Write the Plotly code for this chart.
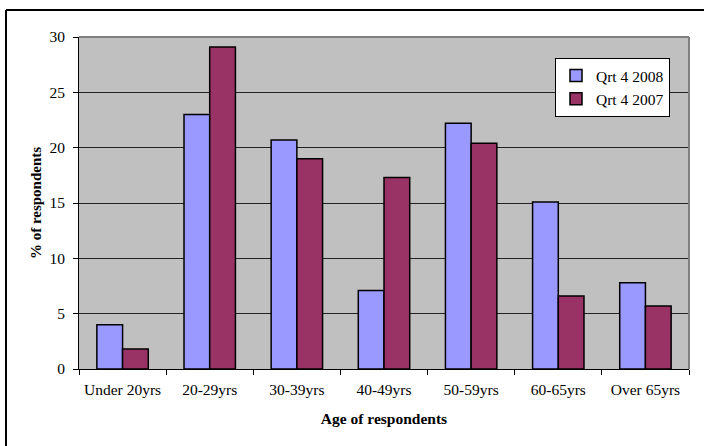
import plotly.graph_objects as go

categories = ["Under 20yrs", "20-29yrs", "30-39yrs", "40-49yrs", "50-59yrs", "60-65yrs", "Over 65yrs"]
q4_2008 = [4.0, 23.0, 20.7, 7.1, 22.2, 15.1, 7.8]
q4_2007 = [1.8, 29.1, 19.0, 17.3, 20.4, 6.6, 5.7]
y_ticks = [0, 5, 10, 15, 20, 25, 30]

font_family = "Liberation Serif, Times New Roman, serif"

fig = go.Figure()
fig.add_trace(go.Bar(x=categories, y=q4_2008, name="Qrt 4 2008", legendgroup="a",
                     marker=dict(color="#9999FF", line=dict(color="black", width=1.5))))
fig.add_trace(go.Bar(x=categories, y=q4_2007, name="Qrt 4 2007", legendgroup="b",
                     marker=dict(color="#993366", line=dict(color="black", width=1.5))))

L, R, T, B = 79, 15, 37, 77
W, H = 704, 446
pw = W - L - R
ph = H - T - B

def px_x(x):
    return (x - L) / pw

def px_y(y):
    return (H - B - y) / ph

fig.update_layout(
    width=W, height=H,
    margin=dict(l=L, r=R, t=T, b=B),
    paper_bgcolor="white",
    plot_bgcolor="#C0C0C0",
    barmode="group",
    bargap=0.41,
    bargroupgap=0,
    font=dict(family=font_family, size=15.5, color="black"),
    legend=dict(x=px_x(670), y=px_y(58), xanchor="right", yanchor="top",
                bgcolor="white", bordercolor="black", borderwidth=1,
                font=dict(size=15.5, family=font_family),
                itemwidth=30, tracegroupgap=0),
    xaxis=dict(
        showline=True, linecolor="black", linewidth=1,
        ticks="outside", ticklen=5, tickcolor="black", tickson="boundaries",
        tickfont=dict(size=15.5, family=font_family),
        ticklabelstandoff=6,
        title=dict(text="<b>Age of respondents</b>", font=dict(size=15.5, family=font_family), standoff=16),
        showgrid=False,
    ),
    yaxis=dict(
        range=[0, 30], tickvals=y_ticks,
        showline=True, linecolor="black", linewidth=1,
        ticks="outside", ticklen=5, tickcolor="black",
        tickfont=dict(size=15.5, family=font_family),
        ticklabelstandoff=5,
        showgrid=True, gridcolor="#222222", gridwidth=1,
        zeroline=False,
        title=dict(text="<b>% of respondents</b>", font=dict(size=15, family=font_family), standoff=4),
    ),
    shapes=[
        dict(type="line", xref="paper", yref="paper", x0=0, x1=1, y0=1, y1=1,
             line=dict(color="#808080", width=2)),
        dict(type="line", xref="paper", yref="paper", x0=1, x1=1, y0=0, y1=1,
             line=dict(color="#808080", width=2)),
        dict(type="line", xref="paper", yref="paper", x0=px_x(6), x1=px_x(6), y0=px_y(10), y1=px_y(460),
             line=dict(color="black", width=2)),
        dict(type="line", xref="paper", yref="paper", x0=px_x(6), x1=px_x(720), y0=px_y(10), y1=px_y(10),
             line=dict(color="black", width=2)),
    ],
)

fig.write_html("out.html", config={"displayModeBar": False},
               post_script="document.body.style.margin='0';")
